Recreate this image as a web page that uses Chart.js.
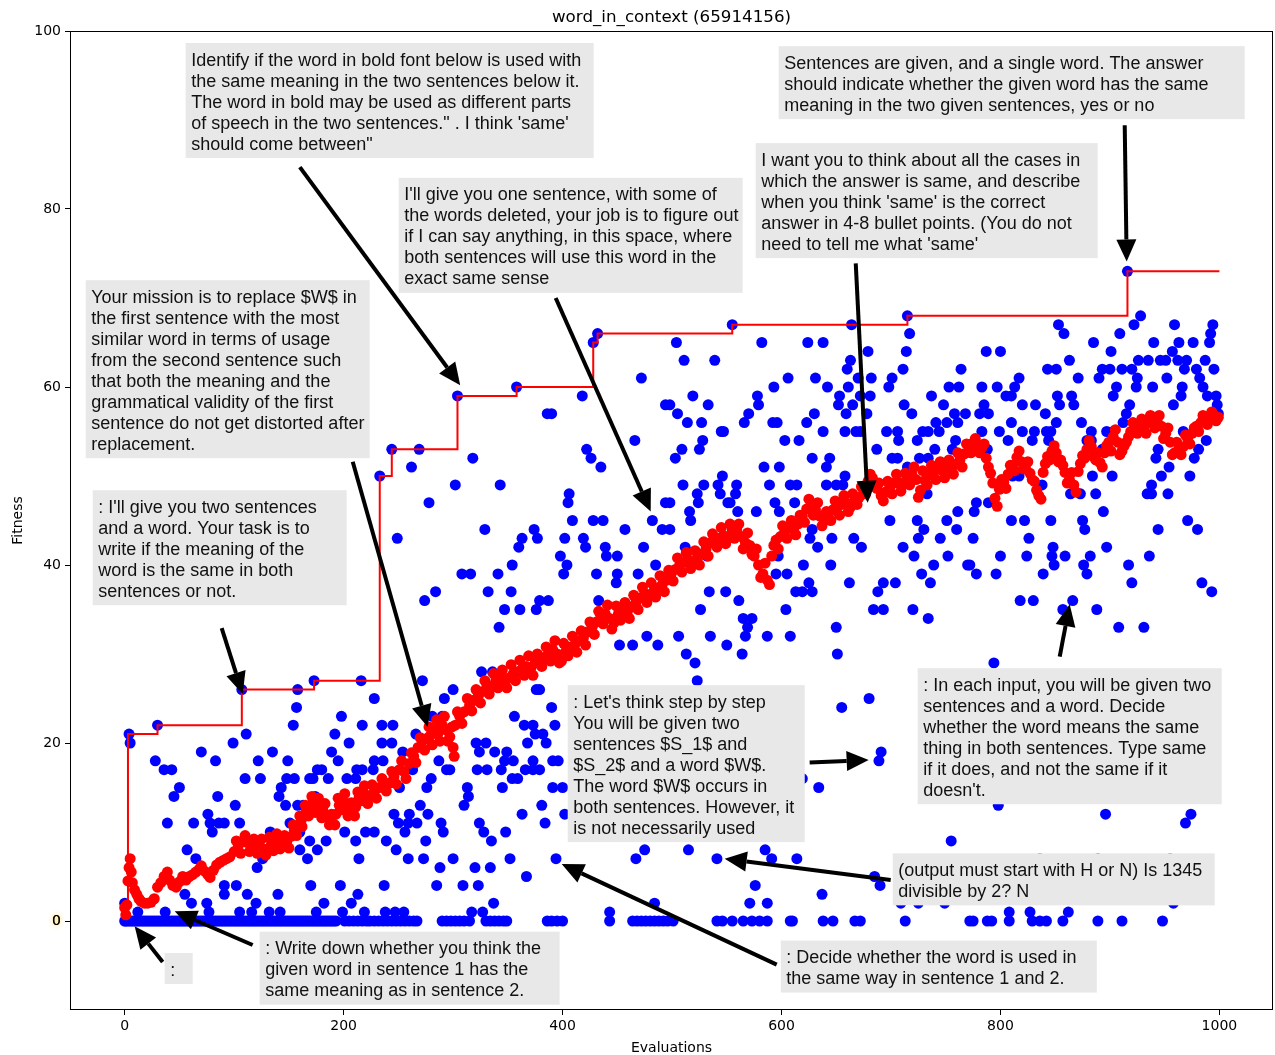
<!DOCTYPE html>
<html>
<head>
<meta charset="utf-8">
<script src="https://cdn.jsdelivr.net/npm/chart.js@4.4.0/dist/chart.umd.min.js"></script>
<style>
  html, body { margin: 0; padding: 0; background: #fff; }
  canvas { display: block; }
</style>
</head>
<body>
<canvas id="chart" width="1275" height="1055"></canvas>
<script>
const chartTitle = "word_in_context (65914156)";
const xTicks = [0, 200, 400, 600, 800, 1000];
const yTicks = [0, 20, 40, 60, 80, 100];

// evaluations that scored 0
const zeroEvals = [0,1,3,5,7,9,11,13,15,17,19,21,23,25,27,29,31,33,35,37,39,41,43,45,47,49,51,53,55,57,59,61,63,65,67,69,71,73,75,77,79,81,83,85,87,89,91,93,95,97,99,101,103,105,107,109,111,113,115,117,119,121,123,125,127,129,131,133,135,137,139,141,143,145,147,149,151,153,155,157,159,161,163,165,167,169,171,173,175,177,179,181,183,185,187,189,191,193,201,205,209,213,217,221,224,228,232,236,240,244,248,252,256,260,264,267,290,294,298,302,306,310,315,330,334,338,342,346,349,386,390,395,400,443,464,468,472,476,480,484,488,492,496,501,541,546,555,565,573,580,587,608,610,638,647,667,672,713,772,775,788,792,808,829,836,842,857,889,911,948];

// every other evaluation [evaluation, fitness]
const evalPoints = [
[4,21],[5,20],[30,22],[107,26],[158,26],[173,27],[216,27],[157,24],[154,22],[198,23],[217,22],[111,21],[99,20],[192,21],[205,20],[28,18],[70,19],[83,18],[122,18],[135,19],[149,18],[189,19],[195,18],[36,17],[43,17],[110,16],[124,16],[148,16],[155,16],[169,16],[172,16],[176,17],[180,17],[186,16],[203,16],[211,16],[212,17],[217,17],[50,15],[45,14],[143,15],[141,14],[85,14],[174,14],[101,13],[147,13],[158,13],[163,13],[76,12],[39,11],[63,11],[78,11],[86,11],[91,11],[105,11],[151,11],[80,10],[133,10],[160,10],[201,10],[220,10],[169,9],[184,9],[211,9],[57,8],[160,8],[176,8],[65,7],[126,7],[167,7],[214,7],[121,6],[91,4],[102,4],[91,3],[112,3],[140,3],[170,4],[197,4],[55,3],[213,3],[61,2],[75,2],[120,2],[182,2],[207,2],[0,2],[12,1],[37,1],[77,1],[105,1],[116,1],[132,1],[142,1],[175,1],[199,1],[219,1],
[272,27],[228,25],[300,26],[292,25],[326,28],[336,28],[379,26],[376,26],[390,24],[356,23],[235,22],[245,22],[281,23],[290,23],[365,22],[373,22],[393,22],[266,21],[375,21],[382,21],[235,20],[244,20],[321,20],[330,20],[368,20],[385,20],[254,19],[324,19],[338,19],[349,19],[228,18],[236,18],[287,18],[347,18],[355,18],[373,18],[391,18],[396,18],[227,17],[263,17],[294,17],[297,17],[322,17],[331,17],[344,17],[366,17],[373,17],[379,17],[280,16],[354,16],[359,16],[251,15],[276,15],[313,15],[345,15],[391,15],[400,15],[314,14],[310,13],[270,13],[381,13],[246,12],[260,12],[277,12],[363,12],[402,12],[250,11],[259,11],[267,11],[289,11],[324,11],[384,11],[228,10],[256,10],[291,10],[328,10],[348,10],[239,9],[275,9],[335,9],[248,8],[475,8],[259,7],[273,7],[300,7],[352,7],[394,7],[467,7],[288,6],[320,6],[334,6],[367,5],[237,4],[285,4],[309,4],[323,4],[337,2],[484,2],[238,1],[247,1],[255,1],[317,1],[327,1],[443,1],[452,31],[464,31],[487,31],[477,32],
[506,32],[535,32],[567,32],[587,32],[608,32],[550,31],[513,30],[564,30],[651,30],[521,29],[523,27],[680,25],[655,24],[691,19],[689,18],[619,16],[634,15],[755,9],[515,8],[585,8],[591,7],[614,7],[541,7],[576,4],[637,3],[685,5],[690,4],[571,2],[587,2],[709,2],[725,2],[749,2],
[794,29],[798,13],[896,12],[974,12],[969,11],[836,7],[889,7],[955,7],[958,2],[808,1],[827,1],[862,1],
[432,66],[428,65],[304,59],[358,60],[418,59],[472,61],[494,58],[386,57],[390,57],[244,53],[269,53],[466,54],[422,53],[426,52],[435,51],[318,52],[262,51],[233,50],[302,49],[343,49],[278,47],[406,48],[405,47],[494,47],[249,43],[329,44],[374,44],[409,45],[428,45],[437,45],[457,44],[482,45],[491,44],[363,43],[360,42],[377,43],[402,43],[419,43],[421,42],[439,42],[440,41],[450,41],[474,42],[398,41],[404,40],[354,40],[485,40],[308,39],[316,39],[341,39],[401,39],[431,39],[450,39],[449,38],[469,39],[284,37],[274,36],[332,37],[353,37],[379,36],[387,36],[347,35],[361,35],[376,35],[433,36],[342,33],
[555,67],[664,67],[715,68],[717,66],[504,65],[582,65],[624,65],[638,65],[679,64],[714,64],[511,63],[539,63],[663,63],[660,62],[711,62],[764,62],[606,61],[631,61],[670,61],[682,61],[701,61],[698,60],[593,60],[642,60],[661,60],[753,60],[762,60],[519,59],[578,59],[579,58],[653,59],[652,58],[672,59],[681,59],[737,59],[748,58],[533,58],[665,58],[712,58],[505,57],[498,58],[570,57],[566,56],[630,57],[623,56],[659,57],[678,57],[719,57],[758,57],[768,57],[514,56],[527,56],[592,56],[596,56],[741,56],[751,56],[761,56],[545,55],[547,55],[638,55],[658,55],[668,55],[672,55],[696,55],[706,55],[729,55],[734,55],[744,55],[528,54],[525,53],[603,54],[616,54],[707,54],[724,54],[759,54],[509,53],[503,52],[687,53],[740,53],[756,53],[628,52],[644,52],[641,51],[701,52],[706,52],[726,52],[734,52],[584,51],[598,51],[715,51],[658,50],[546,50],[510,49],[529,49],[542,49],[544,48],[559,49],[558,48],[589,49],[608,49],[614,49],[641,49],[650,49],[656,49],[523,48],[524,47],[551,47],[553,47],[594,47],[612,47],[733,48],[498,47],[516,46],[517,45],[560,46],[577,46],[598,46],[761,46],[498,44],[699,45],[751,45],[555,44],[724,45],[730,44],[760,44],[628,44],[626,43],[646,43],[666,43],[725,43],[745,43],[512,42],[673,42],[711,42],[633,42],[532,41],[597,41],[721,41],[752,41],[620,40],[645,40],[739,40],[770,40],[595,39],[605,39],[728,39],[662,38],[693,38],[704,38],[736,38],[625,38],[613,37],[619,37],[628,37],[534,37],[549,37],[688,37],[561,36],[526,35],[604,35],[684,35],[693,35],[720,35],[565,34],[573,34],[569,33],[734,34],[650,33],
[916,73],[928,68],[922,67],[853,67],[858,66],[959,67],[994,67],[992,66],[991,65],[909,66],[885,65],[940,65],[963,65],[976,65],[787,64],[800,64],[901,64],[957,64],[863,63],[926,63],[935,63],[946,63],[951,63],[962,63],[970,63],[987,63],[843,62],[851,62],[893,62],[900,62],[911,62],[920,62],[968,62],[979,62],[995,62],[817,61],[871,61],[890,61],[925,61],[952,61],[982,61],[783,60],[797,60],[813,60],[906,60],[924,60],[939,60],[966,60],[985,60],[805,59],[810,59],[852,59],[865,59],[903,59],[965,59],[989,59],[997,59],[785,58],[781,57],[789,57],[820,58],[832,58],[854,58],[867,58],[918,58],[958,58],[998,58],[999,57],[841,57],[915,57],[810,56],[851,56],[874,56],[912,56],[930,56],[783,55],[799,55],[820,55],[831,55],[842,55],[846,55],[883,55],[897,55],[903,55],[967,55],[807,54],[829,54],[844,54],[879,54],[883,54],[988,54],[788,53],[893,53],[944,53],[981,53],[942,52],[977,52],[811,50],[817,50],[884,50],[902,50],[954,51],[947,50],[973,50],[838,49],[938,49],[864,48],[873,48],[887,48],[934,48],[938,48],[953,48],[778,47],[776,46],[789,47],[894,46],[810,45],[822,45],[846,45],[875,45],[877,44],[971,45],[980,44],[944,44],[775,43],[826,43],[848,42],[847,41],[849,40],[897,42],[800,41],[824,41],[859,41],[882,41],[936,41],[876,40],[879,39],[917,40],[772,40],[778,39],[796,39],[839,39],[920,38],[984,38],[993,37],[818,36],[830,36],[866,36],[857,35],[888,35],[908,33],[931,33]
];

// running average of fitness (main trace)
const avgMain = [
[0,1.5],[1,0.7],[2,1.8],[3,4.5],[4,6],[5,7],[6,5.5],[7,4.3],[9,3.5],[11,3],[13,2.5],[15,2.2],[18,2],[21,2],[24,2.1],[27,2.5],[30,3.8],[33,4.3],[36,5],[39,5.5],[41,4.6],[44,4],[47,3.8],[50,4.4],[53,5],[56,4.6],[59,5],[62,5.2],[65,5.5],[68,5.8],[70,6.2],[73,5.6],[76,5.2],[78,4.9],[81,5.7],[84,6.3],[87,6.6],[90,6.8],[93,7],[96,7.2],[100,7.8],[104,8.5],[108,9],[112,8.8],[116,8.5],[119,8.4],[123,8.3],[127,8.1],[130,8],[134,8.6],[137,9],[140,9],[144,8.9],[148,8.8],[152,9.5],[155,10.2],[158,10.5],[161,11.2],[163,11.7],[166,12.3],[169,12.8],[172,13.3],[175,13],[178,12.7],[181,12.5],[185,11.8],[188,11.2],[190,11],[193,12],[196,13],[199,13.6],[202,13.2],[205,12.5],[208,12],[211,12.8],[214,13.8],[217,14.4],[220,14.2],[224,14],[228,14.5],[233,15],[237,15.4],[242,15.5],[246,16.2],[251,17],[255,16.8],[260,17.7],[264,18.5],[268,19.5],[272,20.2],[276,20.5],[279,20.8],[283,21.5],[286,21],[290,22],[293,21.5],[297,20.7],[300,19.5],[302,22],[306,23],[310,23.5],[315,24.2],[319,24.8],[323,25.3],[327,25.8],[331,26.5],[335,26.3],[339,27],[343,27.3],[347,26.8],[351,27.3],[355,27.8],[359,28],[363,28.3],[367,28.6],[371,28.4],[375,29],[379,29.3],[383,29.6],[387,30],[391,30.5],[395,30],[399,29.2],[403,30.3],[407,30.8],[411,31],[415,31.5],[419,31.8],[423,32.5],[427,33],[431,33.6],[435,34.2],[439,34.5],[443,34],[447,33.5],[451,34.5],[455,35],[459,34.7],[463,35.3],[467,35.8],[471,36.3],[475,36.8],[479,36.5],[483,37],[487,37.4],[491,37.8],[495,38.3],[499,38.9],[503,39.5],[507,40],[511,40.3],[515,40.6],[519,40.2],[523,40.7],[527,41.2],[531,41.8],[535,42.5],[539,42.8],[543,43],[547,43.3],[551,43],[555,43.8],[559,44],[563,43.2],[567,42.5],[571,42.2],[575,41],[579,40],[583,39],[587,38.3],[591,41],[595,42.8],[599,43.2],[603,43.8],[607,44.2],[611,44],[615,44.6],[619,45.5],[623,46.3],[627,46.8],[631,46.2],[635,45.5],[639,45],[643,45.8],[647,46.2],[651,46.5],[655,46.8],[659,47],[663,46.5],[667,47.2],[671,47.6],[675,48.4],[679,49.4],[683,49.8],[687,48.6],[691,47.8],[695,48.2],[699,48.8],[703,49.2],[707,49.3],[711,49],[715,49.6],[719,50.2],[723,49.6],[727,48.4],[731,49.5],[735,50.1],[739,50.5],[743,50.8],[747,50.6],[751,51],[755,50.7],[759,51.3],[763,51.8],[767,52.5],[771,53.5],[775,53.7],[779,53.4],[783,53.2],[787,52],[791,50.3],[795,47.5],[799,48.5],[803,49.3],[807,50.2],[811,51.2],[815,52.1],[819,51.6],[823,50.8],[827,50.3],[831,49.4],[835,47.8],[839,50.4],[843,52.2],[847,52.8],[851,52.6],[855,51.8],[859,50.4],[863,49.6],[867,49],[871,50.5],[875,52.3],[879,53],[883,53.3],[887,51.8],[891,51.5],[895,52.6],[899,53.8],[903,54.4],[907,53.8],[911,52.8],[915,53.8],[919,55],[923,55.3],[927,55.6],[931,55.4],[935,56],[939,56.3],[943,56.2],[947,55.6],[951,54.8],[955,53.8],[959,52.6],[963,53],[967,53.3],[971,54.2],[975,54.8],[979,55.6],[983,56],[987,56.3],[991,56.6],[995,56.8],[999,56.6]
];

// running average, in-between evaluations (spread of the band)
const avgSpread = [
[102,9.0],[106,7.6],[110,9.6],[114,7.8],[118,9.2],[121,7.6],[125,9.2],[129,7.4],[132,9.4],[136,7.9],[139,9.8],[142,8.1],[146,9.6],[150,8.2],[154,10.8],[157,9.6],[160,11.8],[162,10.6],[165,13],[168,11.8],[171,14],[174,12.2],[177,13.8],[180,11.6],[183,13.2],[187,10.8],[189,12],[192,10.8],[195,13.8],[198,12.5],[201,14.3],[204,11.8],[207,13.3],[210,11.8],[213,14.5],[216,13.5],[219,15.2],[222,13.2],[226,15.3],[230,13.8],[235,16],[239,14.6],[244,16.8],[248,15.4],[253,18],[257,16],[262,18.9],[266,17.8],[270,20.6],[274,19.2],[278,21.8],[281,19.8],[285,22.6],[288,20.2],[292,23],[295,20.2],[299,21.8],[301,18.5],[304,23.5],[308,22.2],[313,25],[317,23.6],[321,26],[325,24.5],[329,27],[333,25.5],[337,27.8],[341,26.2],[345,28.2],[349,26.2],[353,28.8],[357,27],[361,29.3],[365,27.6],[369,29.8],[373,27.6],[377,30],[381,28.6],[385,30.8],[389,29.2],[393,31.5],[397,29],[401,31.2],[405,29.8],[409,32],[413,30.2],[417,32.6],[421,31],[425,33.6],[429,32.2],[433,34.8],[437,33.4],[441,35.5],[445,32.8],[449,35.4],[453,33.8],[457,35.8],[461,34],[465,36.6],[469,35],[473,37.5],[477,35.8],[481,38],[485,36.4],[489,38.8],[493,37],[497,39.4],[501,38.2],[505,40.8],[509,39.2],[513,41.4],[517,39.6],[521,41.6],[525,40],[529,42.6],[533,41],[537,43.5],[541,42],[545,44.2],[549,42.4],[553,44.6],[557,43],[561,44.6],[565,41.8],[569,43.6],[573,41.2],[577,41.8],[581,38.6],[585,40.2],[589,37.8],[593,42.2],[597,41.8],[601,44.4],[605,43],[609,45],[613,43.4],[617,45.6],[621,44.8],[625,47.4],[629,45.6],[633,47],[637,44.4],[641,46],[645,45],[649,47.2],[653,45.6],[657,47.8],[661,46],[665,48],[669,46.8],[673,48.8],[677,48],[681,50.2],[685,48.8],[689,49.2],[693,47.2],[697,49.4],[701,48],[705,50.2],[709,48.3],[713,50.3],[717,49],[721,51],[725,47.6],[729,50.6],[733,49],[737,51.2],[741,49.6],[745,51.6],[749,49.8],[753,51.8],[757,50.2],[761,52.6],[765,51],[769,53.6],[773,52.6],[777,54.2],[781,52.6],[785,53.6],[789,51],[793,49.2],[797,46.6],[801,49.6],[805,48.6],[809,51.2],[813,50.6],[817,52.8],[821,50.8],[825,51.6],[829,49.6],[833,48.4],[837,47.4],[841,51.4],[845,51.8],[849,53.4],[853,51.6],[857,51.2],[861,49.2],[865,50.4],[869,48.2],[873,51.4],[877,52],[881,54],[885,52.2],[889,52.6],[893,51],[897,53.4],[901,52.8],[905,55.2],[909,52.4],[913,53.4],[917,54.4],[921,56],[925,54.8],[929,56.4],[933,54.8],[937,56.8],[941,55.4],[945,56.8],[949,54.2],[953,55.4],[957,52.4],[961,53.8],[965,52.4],[969,54.6],[973,53.6],[977,55.4],[981,55],[985,56.8],[989,55.8],[993,57.2],[997,56.2]
];

// best fitness so far
const bestX = [0, 3, 30, 107, 173, 233, 244, 304, 358, 428, 432, 555, 715, 916, 1000];
const bestY = [2, 21, 22, 26, 27, 50, 53, 59, 60, 65, 66, 67, 68, 73, 73];

// prompt annotations: box top-left and width, arrow tail and tip, in data units
const notes = [
  { lines: ["Identify if the word in bold font below is used with", "the same meaning in the two sentences below it.", "The word in bold may be used as different parts", "of speech in the two sentences.\" . I think 'same'", "should come between\""],
    box: [55.7, 98.65], width: 372.7, tail: [160, 84.7], tip: [306.5, 60.2] },
  { lines: ["Sentences are given, and a single word. The answer", "should indicate whether the given word has the same", "meaning in the two given sentences, yes or no"],
    box: [597.4, 98.3], width: 425.7, tail: [913.5, 89.4], tip: [915.3, 74.1] },
  { lines: ["I want you to think about all the cases in", "which the answer is same, and describe", "when you think 'same' is the correct", "answer in 4-8 bullet points. (You do not", "need to tell me what 'same'"],
    box: [576.4, 87.4], width: 312.4, tail: [667.8, 73.9], tip: [678.7, 47] },
  { lines: ["I'll give you one sentence, with some of", "the words deleted, your job is to figure out", "if I can say anything, in this space, where", "both sentences will use this word in the", "exact same sense"],
    box: [250.3, 83.5], width: 314.2, tail: [393.7, 70], tip: [480.5, 46] },
  { lines: ["Your mission is to replace $W$ in", "the first sentence with the most", "similar word in terms of usage", "from the second sentence such", "that both the meaning and the", "grammatical validity of the first", "sentence do not get distorted after", "replacement."],
    box: [-35.6, 72], width: 259.4, tail: [208.3, 51.6], tip: [276.8, 21.8] },
  { lines: [": I'll give you two sentences", "and a word. Your task is to", "write if the meaning of the", "word is the same in both", "sentences or not."],
    box: [-29.2, 48.4], width: 232, tail: [88.6, 32.9], tip: [107.8, 25.5] },
  { lines: [": Let's think step by step", "You will be given two", "sentences $S_1$ and", "$S_2$ and a word $W$.", "The word $W$ occurs in", "both sentences. However, it", "is not necessarily used"],
    box: [404.7, 26.5], width: 216.5, tail: [625.7, 17.8], tip: [679.6, 18.1] },
  { lines: [": In each input, you will be given two", "sentences and a word. Decide", "whether the word means the same", "thing in both sentences. Type same", "if it does, and not the same if it", "doesn't."],
    box: [724.4, 28.4], width: 277.7, tail: [854.1, 29.7], tip: [863.2, 35.6] },
  { lines: ["(output must start with H or N) Is 1345", "divisible by 2? N"],
    box: [701.6, 7.6], width: 294.1, tail: [699.7, 4.6], tip: [548.1, 7] },
  { lines: [": Decide whether the word is used in", "the same way in sentence 1 and 2."],
    box: [599.3, -2.2], width: 288.7, tail: [595.6, -4.9], tip: [399.2, 6.4] },
  { lines: [": Write down whether you think the", "given word in sentence 1 has the", "same meaning as in sentence 2."],
    box: [123.3, -1.2], width: 274, tail: [116.9, -2.7], tip: [45.7, 1.1] },
  { lines: [":"],
    box: [36.5, -3.6], width: 25.6, tail: [34.7, -4.6], tip: [9.1, -0.6] }
];

const blueData = zeroEvals.map(x => ({ x, y: 0 }))
  .concat(evalPoints.map(p => ({ x: p[0], y: p[1] })));
const avgData = avgMain.concat(avgSpread).map(p => ({ x: p[0], y: p[1] }));
const bestData = bestX.map((x, i) => ({ x, y: bestY[i] }));

function drawArrow(ctx, x1, y1, x2, y2) {
    const a = Math.atan2(y2 - y1, x2 - x1);
    const hl = 22, hw = 10;
    const bx = x2 - hl * Math.cos(a), by = y2 - hl * Math.sin(a);
    ctx.beginPath();
    ctx.moveTo(x1, y1);
    ctx.lineTo(bx, by);
    ctx.lineWidth = 4;
    ctx.stroke();
    ctx.beginPath();
    ctx.moveTo(x2, y2);
    ctx.lineTo(bx + hw * Math.sin(a), by - hw * Math.cos(a));
    ctx.lineTo(bx - hw * Math.sin(a), by + hw * Math.cos(a));
    ctx.closePath();
    ctx.fill();
}

const overlay = {
    id: "overlay",
    afterDraw(chart) {
        const ctx = chart.ctx;
        const xs = chart.scales.x, ys = chart.scales.y;
        const area = chart.chartArea;

        ctx.save();
        // axes frame
        ctx.strokeStyle = "#000";
        ctx.lineWidth = 1;
        ctx.strokeRect(area.left + 0.5, area.top + 0.5, area.right - area.left - 1, area.bottom - area.top - 1);

        // title and axis labels
        ctx.fillStyle = "#000";
        ctx.font = '16.7px "DejaVu Sans"';
        ctx.textAlign = "center";
        ctx.textBaseline = "alphabetic";
        ctx.fillText(chartTitle, (area.left + area.right) / 2, 22);
        ctx.font = '14px "DejaVu Sans"';
        ctx.fillText("Evaluations", (area.left + area.right) / 2, 1052);
        ctx.save();
        ctx.translate(22, (area.top + area.bottom) / 2);
        ctx.rotate(-Math.PI / 2);
        ctx.fillText("Fitness", 0, 0);
        ctx.restore();

        // yellow glow on the zero tick label
        ctx.save();
        ctx.textAlign = "right";
        ctx.textBaseline = "middle";
        ctx.shadowColor = "rgba(255,190,0,0.9)";
        ctx.shadowBlur = 5;
        ctx.fillText("0", area.left - 9, ys.getPixelForValue(0));
        ctx.restore();

        // annotations
        ctx.font = '18px "Liberation Sans", Arial, sans-serif';
        ctx.textAlign = "left";
        ctx.textBaseline = "alphabetic";
        const lh = 21, pad = 5.5;
        notes.forEach(n => {
            ctx.fillStyle = "#000";
            ctx.strokeStyle = "#000";
            drawArrow(ctx, xs.getPixelForValue(n.tail[0]), ys.getPixelForValue(n.tail[1]),
                xs.getPixelForValue(n.tip[0]), ys.getPixelForValue(n.tip[1]));
            const bx = xs.getPixelForValue(n.box[0]);
            const by = ys.getPixelForValue(n.box[1]);
            const w = xs.getPixelForValue(n.box[0] + n.width) - bx;
            const h = (n.lines.length - 1) * lh + 20 + pad * 2;
            ctx.fillStyle = "#e8e8e8";
            ctx.fillRect(bx, by, w, h);
            ctx.fillStyle = "#111";
            n.lines.forEach((l, i) => ctx.fillText(l, bx + pad, by + pad + 17 + i * lh));
        });
        ctx.restore();
    }
};

new Chart(document.getElementById("chart"), {
    type: "scatter",
    data: {
        datasets: [
            {
                label: "best",
                data: bestData,
                showLine: true,
                stepped: "before",
                borderColor: "#ff0000",
                borderWidth: 2,
                pointRadius: 0,
                order: 1
            },
            {
                label: "average",
                data: avgData,
                backgroundColor: "#ff0000",
                borderWidth: 0,
                pointRadius: 5.5,
                order: 2
            },
            {
                label: "fitness",
                data: blueData,
                backgroundColor: "#0000ff",
                borderWidth: 0,
                pointRadius: 5.5,
                order: 3
            }
        ]
    },
    options: {
        responsive: false,
        animation: false,
        devicePixelRatio: 1,
        layout: { autoPadding: false, padding: { top: 31, right: 2, left: 0, bottom: 0 } },
        plugins: { legend: { display: false }, tooltip: { enabled: false } },
        scales: {
            x: {
                type: "linear",
                min: -49.95,
                max: 1048.95,
                afterFit: s => { s.height = 45; s.paddingLeft = 0; s.paddingRight = 0; },
                afterBuildTicks: s => { s.ticks = xTicks.map(v => ({ value: v })); },
                grid: { drawOnChartArea: false, tickLength: 5, tickColor: "#000" },
                border: { display: false },
                ticks: { color: "#000", padding: 3, maxRotation: 0, callback: v => String(v), font: { family: "DejaVu Sans", size: 14 } }
            },
            y: {
                min: -10,
                max: 100,
                afterFit: s => { s.width = 70; s.paddingTop = 0; s.paddingBottom = 0; },
                afterBuildTicks: s => { s.ticks = yTicks.map(v => ({ value: v })); },
                grid: { drawOnChartArea: false, tickLength: 5, tickColor: "#000" },
                border: { display: false },
                ticks: { color: "#000", padding: 4, callback: v => String(v), font: { family: "DejaVu Sans", size: 14 } }
            }
        }
    },
    plugins: [overlay]
});
</script>
</body>
</html>
